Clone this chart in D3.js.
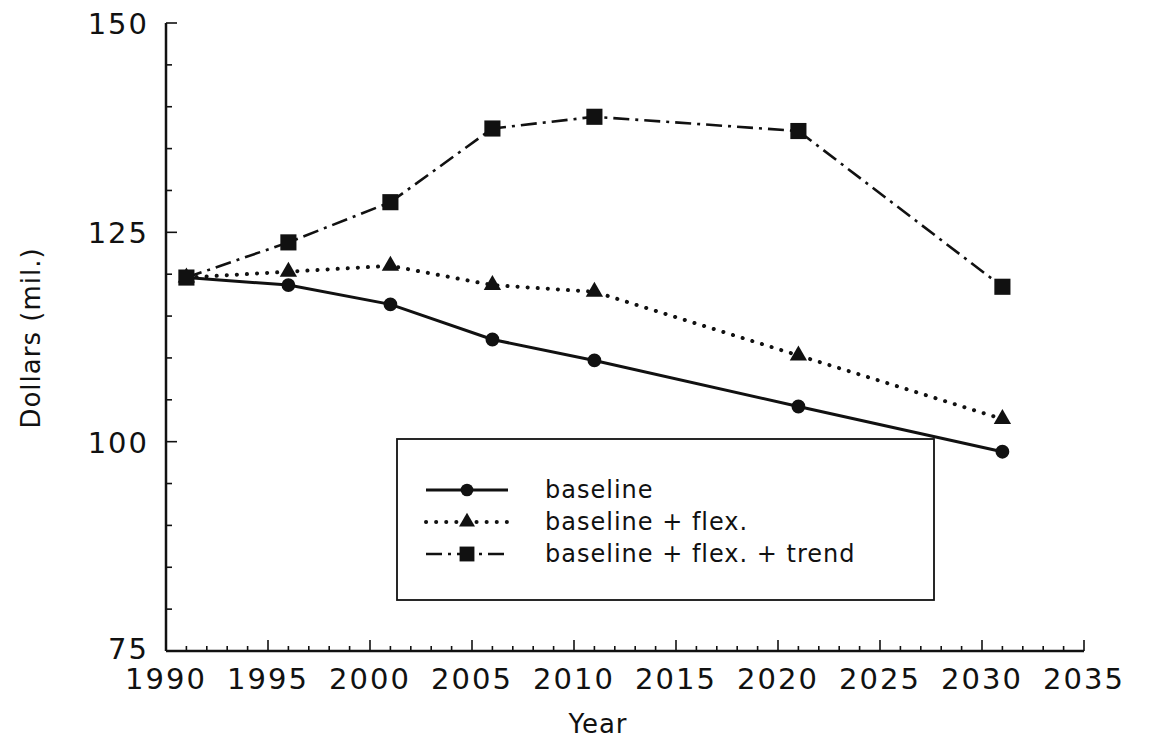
<!DOCTYPE html>
<html>
<head>
<meta charset="utf-8">
<script src="https://cdn.jsdelivr.net/npm/d3@7"></script>
<style>
  body { margin: 0; background: white; }
  text { font-family: "DejaVu Sans", sans-serif; fill: #111; }
</style>
</head>
<body>
<div id="container"></div>
<script>
let w = 1152;
let h = 744;

// data
let years = [1991, 1996, 2001, 2006, 2011, 2021, 2031];
let baseline = [119.6, 118.7, 116.4, 112.2, 109.7, 104.2, 98.8];
let flex = [119.6, 120.3, 121.0, 118.7, 117.9, 110.3, 102.7];
let trend = [119.6, 123.8, 128.6, 137.4, 138.8, 137.1, 118.5];
let seriesNames = ["baseline", "baseline + flex.", "baseline + flex. + trend"];
let yTicks = [75, 100, 125, 150];
let xTicks = [1990, 1995, 2000, 2005, 2010, 2015, 2020, 2025, 2030, 2035];

let viz = d3.select("#container").append("svg")
  .attr("width", w)
  .attr("height", h)
  .style("background-color", "white");

let x = d3.scaleLinear().domain([1990, 2035]).range([166, 1084]);
let y = d3.scaleLinear().domain([75, 150]).range([651, 23]);

let ink = "#111";

// axes lines
viz.append("line").attr("x1", x(1990)).attr("x2", x(2035)).attr("y1", y(75)).attr("y2", y(75))
  .attr("stroke", ink).attr("stroke-width", 2.5);
viz.append("line").attr("x1", x(1990)).attr("x2", x(1990)).attr("y1", y(75)).attr("y2", y(150))
  .attr("stroke", ink).attr("stroke-width", 2.5);

// x ticks, inward
d3.range(1990, 2036).forEach(function(yr){
  let major = yr % 5 == 0;
  viz.append("line")
    .attr("x1", x(yr)).attr("x2", x(yr))
    .attr("y1", y(75)).attr("y2", y(75) - (major ? 11 : 5))
    .attr("stroke", ink).attr("stroke-width", 1.6);
});
viz.selectAll(".xlab").data(xTicks).enter().append("text")
  .attr("class", "xlab")
  .attr("x", d => x(d))
  .attr("y", 689)
  .attr("text-anchor", "middle")
  .style("font-size", "29px")
  .style("letter-spacing", "2px")
  .text(d => d);

// y ticks, inward
d3.range(75, 151, 5).forEach(function(v){
  let major = v % 25 == 0;
  viz.append("line")
    .attr("x1", x(1990)).attr("x2", x(1990) + (major ? 11 : 6))
    .attr("y1", y(v)).attr("y2", y(v))
    .attr("stroke", ink).attr("stroke-width", 1.6);
});
viz.selectAll(".ylab").data(yTicks).enter().append("text")
  .attr("class", "ylab")
  .attr("x", 149)
  .attr("y", d => y(d) + (d == 75 ? 8 : 11))
  .attr("text-anchor", "end")
  .style("font-size", "29px")
  .style("letter-spacing", "2px")
  .text(d => d);

// axis titles
viz.append("text")
  .attr("x", 598).attr("y", 733)
  .attr("text-anchor", "middle")
  .style("font-size", "26px")
  .style("letter-spacing", "1px")
  .text("Year");
viz.append("text")
  .attr("transform", "translate(40,338) rotate(-90)")
  .attr("text-anchor", "middle")
  .style("font-size", "26px")
  .style("letter-spacing", "1px")
  .text("Dollars (mil.)");

// series
let styles = [
  {data: baseline, dash: null, width: 3, cap: "butt", shape: d3.symbolCircle, size: 150},
  {data: flex, dash: "0.1 10", width: 4, cap: "round", shape: d3.symbolTriangle, size: 130},
  {data: trend, dash: "16 6 3 6", width: 2.6, cap: "butt", shape: d3.symbolSquare, size: 260}
];

let lineMaker = d3.line()
  .x((d, i) => x(years[i]))
  .y(d => y(d));

styles.forEach(function(s){
  viz.append("path")
    .attr("d", lineMaker(s.data))
    .attr("fill", "none")
    .attr("stroke", ink)
    .attr("stroke-width", s.width)
    .attr("stroke-linecap", s.cap)
    .attr("stroke-dasharray", s.dash);
  viz.selectAll(null).data(s.data).enter().append("path")
    .attr("d", d3.symbol().type(s.shape).size(s.size))
    .attr("transform", (d, i) => "translate(" + x(years[i]) + "," + y(d) + ")")
    .attr("fill", ink);
});

// legend
let legend = viz.append("g");
legend.append("rect")
  .attr("x", 397).attr("y", 439).attr("width", 537).attr("height", 161)
  .attr("fill", "white").attr("stroke", ink).attr("stroke-width", 1.8);

styles.forEach(function(s, i){
  let ly = 490 + i * 32;
  legend.append("line")
    .attr("x1", 426).attr("x2", 508).attr("y1", ly).attr("y2", ly)
    .attr("stroke", ink)
    .attr("stroke-width", s.width)
    .attr("stroke-linecap", s.cap)
    .attr("stroke-dasharray", s.dash);
  legend.append("path")
    .attr("d", d3.symbol().type(s.shape).size(s.size * 0.85))
    .attr("transform", "translate(467," + ly + ")")
    .attr("fill", ink);
  legend.append("text")
    .attr("x", 545).attr("y", ly + 8)
    .style("font-size", "24px")
    .style("letter-spacing", "1px")
    .text(seriesNames[i]);
});
</script>
</body>
</html>
